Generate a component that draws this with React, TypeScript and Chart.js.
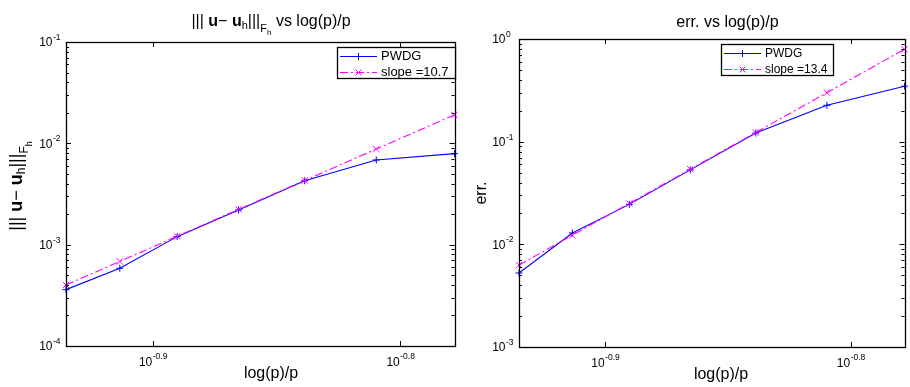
import React, { useEffect, useRef } from "react";
import { Chart, registerables } from "chart.js";
Chart.register(...registerables);

const FONT = '"Liberation Sans", Arial, Helvetica, sans-serif';

// x = log(p)/p for p = 29, 27, 25, 23, 21, 19, 17
const xValues = [0.11611, 0.12207, 0.12876, 0.13633, 0.14498, 0.15497, 0.16667];
const normPWDG = [3.6e-4, 5.85e-4, 1.2e-3, 2.2e-3, 4.27e-3, 6.86e-3, 7.91e-3];
const normSlope = [4.0e-4, 6.83e-4, 1.21e-3, 2.23e-3, 4.3e-3, 8.78e-3, 1.91e-2];
const errPWDG = [5.26e-3, 1.29e-2, 2.45e-2, 5.31e-2, 0.1213, 0.226, 0.347];
const errSlope = [6.27e-3, 1.229e-2, 2.5e-2, 5.39e-2, 0.1229, 0.3, 0.794];
const xTickExponents = ["-0.9", "-0.8"];
const normYExponents = [-4, -3, -2, -1];
const errYExponents = [-3, -2, -1, 0];
const pwdgLabel = "PWDG";
const normSlopeLabel = "slope =10.7";
const errSlopeLabel = "slope =13.4";
const xAxisLabel = "log(p)/p";

type Seg = { t: string; size: number; bold?: boolean; dy?: number };

const normTitle: Seg[] = [
  { t: "||| ", size: 16 },
  { t: "u", size: 16, bold: true },
  { t: "\u2212 ", size: 16 },
  { t: "u", size: 16, bold: true },
  { t: "h", size: 11, dy: 3 },
  { t: "|||", size: 16 },
  { t: "F", size: 11, dy: 6 },
  { t: "h", size: 8, dy: 9 },
  { t: " vs log(p)/p", size: 16 },
];
const normYLabel: Seg[] = [
  { t: "||| ", size: 18 },
  { t: "u", size: 18, bold: true },
  { t: "\u2212 ", size: 18 },
  { t: "u", size: 18, bold: true },
  { t: "h", size: 12, dy: 3 },
  { t: "|||", size: 18 },
  { t: "F", size: 12, dy: 6 },
  { t: "h", size: 9, dy: 10 },
];
const errTitle: Seg[] = [{ t: "err. vs log(p)/p", size: 16 }];
const errYLabel: Seg[] = [{ t: "err.", size: 16 }];

function segFont(s: Seg) {
  return `${s.bold ? "bold " : ""}${s.size}px ${FONT}`;
}
function richWidth(ctx: CanvasRenderingContext2D, segs: Seg[]) {
  let w = 0;
  for (const s of segs) {
    ctx.font = segFont(s);
    w += ctx.measureText(s.t).width;
  }
  return w;
}
function drawRich(ctx: CanvasRenderingContext2D, segs: Seg[], x: number, y: number) {
  let cx = x;
  ctx.textAlign = "left";
  ctx.textBaseline = "alphabetic";
  for (const s of segs) {
    ctx.font = segFont(s);
    ctx.fillText(s.t, cx, y + (s.dy || 0));
    cx += ctx.measureText(s.t).width;
  }
}

function drawMarker(ctx: CanvasRenderingContext2D, kind: string, x: number, y: number, color: string) {
  ctx.save();
  ctx.strokeStyle = color;
  ctx.lineWidth = 1;
  ctx.setLineDash([]);
  ctx.beginPath();
  if (kind === "cross") {
    ctx.moveTo(x - 3.5, y);
    ctx.lineTo(x + 3.5, y);
    ctx.moveTo(x, y - 3.5);
    ctx.lineTo(x, y + 3.5);
  } else {
    ctx.moveTo(x - 3, y - 3);
    ctx.lineTo(x + 3, y + 3);
    ctx.moveTo(x - 3, y + 3);
    ctx.lineTo(x + 3, y - 3);
  }
  ctx.stroke();
  ctx.restore();
}

type Cfg = {
  width: number;
  padding: { left: number; top: number; right: number; bottom: number };
  pwdg: number[];
  slope: number[];
  slopeLabel: string;
  yExps: number[];
  title: Seg[];
  titleCenter: number;
  titleBaseline: number;
  yLabel: Seg[];
  yLabelX: number;
  yLabelCenter: number;
  xLabelCenter: number;
  legend: { x: number; y: number; w: number; h: number; font: number };
};

const DASHDOT = [8, 3, 2, 3];

function ChartPanel({ cfg, left }: { cfg: Cfg; left: number }) {
  const ref = useRef<HTMLCanvasElement | null>(null);
  useEffect(() => {
    const canvas = ref.current;
    if (!canvas) return;
    const decorate = {
      id: "matlabDecor",
      afterDraw(chart: any) {
        const ctx: CanvasRenderingContext2D = chart.ctx;
        const { left: L, right: R, top: T, bottom: B } = chart.chartArea;
        const xs = chart.scales.x;
        const ys = chart.scales.y;
        ctx.save();
        ctx.strokeStyle = "#000";
        ctx.fillStyle = "#000";
        ctx.lineWidth = 1.3;
        ctx.setLineDash([]);
        // box
        ctx.strokeRect(Math.round(L) + 0.5, Math.round(T) + 0.5, Math.round(R - L), Math.round(B - T));
        ctx.lineWidth = 1;
        // y ticks
        const e0 = cfg.yExps[0];
        const e1 = cfg.yExps[cfg.yExps.length - 1];
        ctx.beginPath();
        for (let e = e0; e <= e1; e++) {
          for (let m = 1; m <= 9; m++) {
            const v = m * Math.pow(10, e);
            if (e === e1 && m > 1) continue;
            const py = Math.round(ys.getPixelForValue(v)) + 0.5;
            const len = m === 1 ? 5 : 3;
            ctx.moveTo(L, py);
            ctx.lineTo(L + len, py);
            ctx.moveTo(R, py);
            ctx.lineTo(R - len, py);
          }
        }
        // x ticks
        for (const ex of xTickExponents) {
          const px = Math.round(xs.getPixelForValue(Math.pow(10, parseFloat(ex)))) + 0.5;
          ctx.moveTo(px, B);
          ctx.lineTo(px, B - 5);
          ctx.moveTo(px, T);
          ctx.lineTo(px, T + 5);
        }
        ctx.stroke();
        // y tick labels
        for (const e of cfg.yExps) {
          const py = ys.getPixelForValue(Math.pow(10, e));
          const baseX = L - 13.5;
          ctx.font = `12px ${FONT}`;
          ctx.textAlign = "right";
          ctx.textBaseline = "alphabetic";
          ctx.fillText("10", baseX, py + 4.4);
          ctx.font = `8.5px ${FONT}`;
          ctx.textAlign = "left";
          ctx.fillText(String(e), baseX + 0.5, py - 2);
        }
        // x tick labels
        for (const ex of xTickExponents) {
          const px = xs.getPixelForValue(Math.pow(10, parseFloat(ex)));
          ctx.font = `12px ${FONT}`;
          const w10 = ctx.measureText("10").width;
          ctx.font = `8.5px ${FONT}`;
          const we = ctx.measureText(ex).width;
          const start = px - (w10 + we) / 2;
          ctx.textAlign = "left";
          ctx.textBaseline = "alphabetic";
          ctx.font = `12px ${FONT}`;
          ctx.fillText("10", start, B + 19.5);
          ctx.font = `8.5px ${FONT}`;
          ctx.fillText(ex, start + w10 + 0.5, B + 12.5);
        }
        // x label
        ctx.font = `16px ${FONT}`;
        ctx.textAlign = "center";
        ctx.fillText(xAxisLabel, cfg.xLabelCenter, B + 32);
        // title
        const tw = richWidth(ctx, cfg.title);
        drawRich(ctx, cfg.title, cfg.titleCenter - tw / 2, cfg.titleBaseline);
        // y label
        const yw = richWidth(ctx, cfg.yLabel);
        ctx.save();
        ctx.translate(cfg.yLabelX, cfg.yLabelCenter);
        ctx.rotate(-Math.PI / 2);
        drawRich(ctx, cfg.yLabel, -yw / 2, 0);
        ctx.restore();
        // legend
        const lg = cfg.legend;
        ctx.fillStyle = "#fff";
        ctx.fillRect(lg.x, lg.y, lg.w, lg.h);
        ctx.strokeStyle = "#000";
        ctx.lineWidth = 1.3;
        ctx.strokeRect(lg.x + 0.5, lg.y + 0.5, lg.w, lg.h);
        ctx.lineWidth = 1.1;
        const rows = [
          { label: pwdgLabel, color: "#0000ff", dash: [] as number[], marker: "cross" },
          { label: cfg.slopeLabel, color: "#ff00ff", dash: DASHDOT, marker: "x" },
        ];
        rows.forEach((r, i) => {
          const ly = Math.round(lg.y + lg.h * (i === 0 ? 0.3 : 0.8)) + 0.5;
          ctx.strokeStyle = r.color;
          ctx.setLineDash(r.dash);
          ctx.beginPath();
          ctx.moveTo(lg.x + 3, ly);
          ctx.lineTo(lg.x + 40, ly);
          ctx.stroke();
          ctx.setLineDash([]);
          drawMarker(ctx, r.marker, lg.x + 21.5, ly, r.color);
          ctx.fillStyle = "#000";
          ctx.font = `${lg.font}px ${FONT}`;
          ctx.textAlign = "left";
          ctx.textBaseline = "middle";
          ctx.fillText(r.label, lg.x + 44, ly);
        });
        ctx.restore();
      },
    };
    const chart = new Chart(canvas, {
      type: "line",
      data: {
        datasets: [
          {
            label: pwdgLabel,
            data: xValues.map((x, i) => ({ x, y: cfg.pwdg[i] })),
            borderColor: "#0000ff",
            backgroundColor: "#0000ff",
            borderWidth: 1.1,
            pointStyle: "cross",
            pointRadius: 3.5,
            pointBorderWidth: 1,
            pointBorderColor: "#0000ff",
            tension: 0,
            clip: false as any,
            order: 1,
          },
          {
            label: cfg.slopeLabel,
            data: xValues.map((x, i) => ({ x, y: cfg.slope[i] })),
            borderColor: "#ff00ff",
            backgroundColor: "#ff00ff",
            borderWidth: 1.1,
            borderDash: DASHDOT,
            pointStyle: "crossRot",
            pointRadius: 4.5,
            pointBorderWidth: 1,
            pointBorderColor: "#ff00ff",
            tension: 0,
            clip: false as any,
            order: 0,
          },
        ],
      },
      options: {
        animation: false,
        responsive: false,
        devicePixelRatio: 1,
        events: [],
        layout: { padding: cfg.padding },
        plugins: { legend: { display: false }, title: { display: false }, tooltip: { enabled: false } },
        scales: {
          x: {
            type: "logarithmic",
            min: xValues[0],
            max: xValues[xValues.length - 1],
            display: false,
          },
          y: {
            type: "logarithmic",
            min: Math.pow(10, cfg.yExps[0]),
            max: Math.pow(10, cfg.yExps[cfg.yExps.length - 1]),
            display: false,
          },
        },
      },
      plugins: [decorate],
    });
    return () => chart.destroy();
  }, [cfg]);
  return (
    <canvas
      ref={ref}
      width={cfg.width}
      height={387}
      style={{ position: "absolute", left, top: 0, width: cfg.width, height: 387 }}
    />
  );
}

const leftCfg: Cfg = {
  width: 460,
  padding: { left: 66, top: 42, right: 4, bottom: 41 },
  pwdg: normPWDG,
  slope: normSlope,
  slopeLabel: normSlopeLabel,
  yExps: normYExponents,
  title: normTitle,
  titleCenter: 271,
  titleBaseline: 25.5,
  yLabel: normYLabel,
  yLabelX: 22,
  yLabelCenter: 186,
  xLabelCenter: 271,
  legend: { x: 337, y: 47, w: 118, h: 31, font: 13 },
};

const rightCfg: Cfg = {
  width: 450,
  padding: { left: 59, top: 39, right: 2, bottom: 40 },
  pwdg: errPWDG,
  slope: errSlope,
  slopeLabel: errSlopeLabel,
  yExps: errYExponents,
  title: errTitle,
  titleCenter: 267.5,
  titleBaseline: 27,
  yLabel: errYLabel,
  yLabelX: 26,
  yLabelCenter: 193,
  xLabelCenter: 261,
  legend: { x: 261, y: 44, w: 112, h: 31, font: 12 },
};

export default function App() {
  return (
    <div
      style={{ position: "fixed", left: 0, top: 0, width: 910, height: 387, background: "#fff", overflow: "hidden" }}
    >
      <ChartPanel cfg={leftCfg} left={0} />
      <ChartPanel cfg={rightCfg} left={460} />
    </div>
  );
}
